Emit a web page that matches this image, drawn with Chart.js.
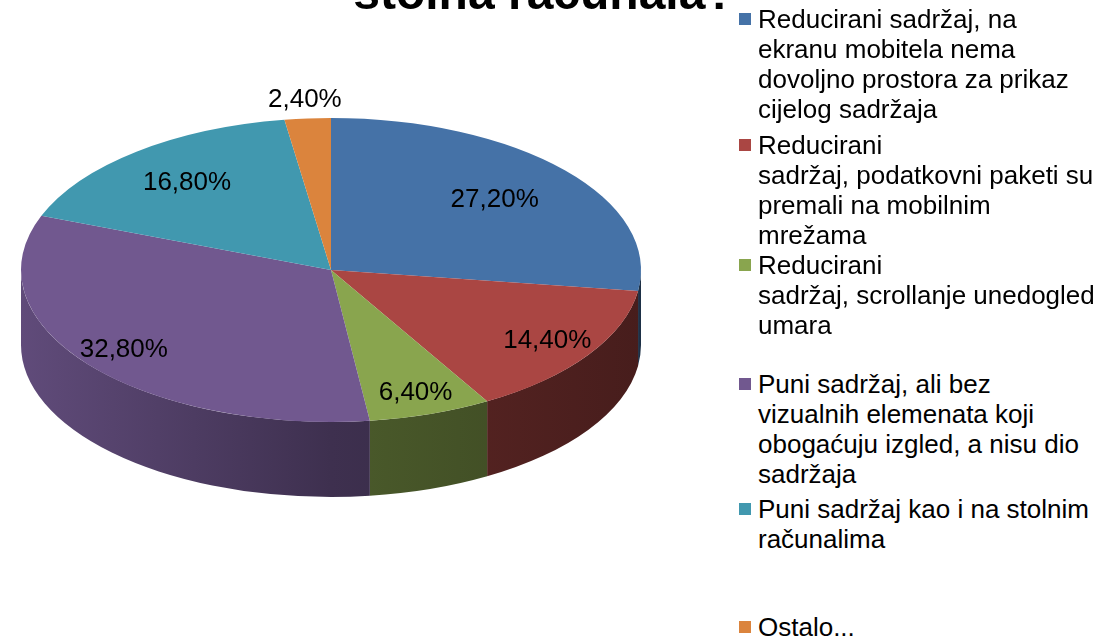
<!DOCTYPE html>
<html>
<head>
<meta charset="utf-8">
<script src="https://cdn.jsdelivr.net/npm/chart.js@4.4.1/dist/chart.umd.min.js"></script>
<style>
    html, body { margin: 0; padding: 0; background: #fff; }
    body {
        width: 1113px; height: 642px; overflow: hidden; position: relative;
        font-family: Arial, "Liberation Sans", sans-serif; color: #000;
    }
    #wrap { position: absolute; left: 0; top: 0; width: 700px; height: 642px; }
    #title {
        position: absolute; left: 294px; width: 500px; top: -32px;
        text-align: center; font-weight: bold; font-size: 48px; line-height: 50px;
        white-space: nowrap;
    }
    .item {
        position: absolute; left: 758px; font-size: 26px; line-height: 30px;
        white-space: nowrap;
    }
    .item .box { position: absolute; left: -19px; top: 9px; width: 12px; height: 12px; }
</style>
</head>
<body>
<div id="wrap"><canvas id="pieChart" width="700" height="642"></canvas></div>
<div id="title">stolna računala?</div>
<div id="legend"></div>
<script>
// Chart data
const categories = [
    ['Reducirani sadržaj, na', 'ekranu mobitela nema', 'dovoljno prostora za prikaz', 'cijelog sadržaja'],
    ['Reducirani', 'sadržaj, podatkovni paketi su', 'premali na mobilnim', 'mrežama'],
    ['Reducirani', 'sadržaj, scrollanje unedogled', 'umara'],
    ['Puni sadržaj, ali bez', 'vizualnih elemenata koji', 'obogaćuju izgled, a nisu dio', 'sadržaja'],
    ['Puni sadržaj kao i na stolnim', 'računalima'],
    ['Ostalo...']
];
const values = [27.2, 14.4, 6.4, 32.8, 16.8, 2.4];
const valueLabels = ['27,20%', '14,40%', '6,40%', '32,80%', '16,80%', '2,40%'];

// Colors (Excel 2007 palette)
const colors = ['#4572A7', '#AA4643', '#89A54E', '#71588F', '#4198AF', '#DB843D'];

// 3D look: ellipse of the top face and depth of the side wall
const CX = 331, CY = 270, RX = 310, RY = 152, DEPTH = 75;
// how far out along the slice each value label sits (fraction of radius)
const labelRadius = [0.7, 0.84, 0.85, 0.85, 0.74, 1.12];
// legend item tops, like Excel spaced them
const legendTops = [4, 130, 250, 369, 494, 612];

function shade(hex, f) {
    const n = parseInt(hex.slice(1), 16);
    const r = Math.round(((n >> 16) & 255) * f);
    const g = Math.round(((n >> 8) & 255) * f);
    const b = Math.round((n & 255) * f);
    return `rgb(${r},${g},${b})`;
}

const pie3d = {
    id: 'pie3d',
    beforeDatasetsDraw(chart) {
        const ctx = chart.ctx;
        const arcs = chart.getDatasetMeta(0).data;

        // side wall: only the front half (angles 0..PI) is visible
        arcs.forEach((arc, i) => {
            const a1 = Math.max(arc.startAngle, 0);
            const a2 = Math.min(arc.endAngle, Math.PI);
            if (a2 <= a1) return;
            const grad = ctx.createLinearGradient(CX - RX, 0, CX + RX, 0);
            grad.addColorStop(0, shade(colors[i], 0.85));
            grad.addColorStop(0.5, shade(colors[i], 0.55));
            grad.addColorStop(1, shade(colors[i], 0.42));
            ctx.save();
            ctx.fillStyle = grad;
            ctx.beginPath();
            ctx.ellipse(CX, CY, RX, RY, 0, a1, a2, false);
            ctx.ellipse(CX, CY + DEPTH, RX, RY, 0, a2, a1, true);
            ctx.closePath();
            ctx.fill();
            ctx.restore();
        });

        // squash the library's round pie into the top ellipse
        const { x, y, outerRadius } = arcs[0];
        ctx.save();
        ctx.translate(CX, CY);
        ctx.scale(RX / outerRadius, RY / outerRadius);
        ctx.translate(-x, -y);
    },
    afterDatasetsDraw(chart) {
        const ctx = chart.ctx;
        ctx.restore();

        // value labels
        const arcs = chart.getDatasetMeta(0).data;
        ctx.save();
        ctx.font = '26px Arial, "Liberation Sans", sans-serif';
        ctx.fillStyle = '#000';
        ctx.textAlign = 'center';
        ctx.textBaseline = 'middle';
        arcs.forEach((arc, i) => {
            const mid = (arc.startAngle + arc.endAngle) / 2;
            const f = labelRadius[i];
            ctx.fillText(valueLabels[i], CX + RX * f * Math.cos(mid), CY + RY * f * Math.sin(mid));
        });
        ctx.restore();
    }
};

new Chart(document.getElementById('pieChart'), {
    type: 'pie',
    data: {
        labels: categories,
        datasets: [{
            data: values,
            backgroundColor: colors,
            borderWidth: 0
        }]
    },
    options: {
        responsive: false,
        animation: false,
        events: [],
        plugins: {
            legend: { display: false },
            tooltip: { enabled: false }
        }
    },
    plugins: [pie3d]
});

// Legend (multi-line labels, drawn as HTML)
const legend = document.getElementById('legend');
categories.forEach((lines, i) => {
    const item = document.createElement('div');
    item.className = 'item';
    item.style.top = legendTops[i] + 'px';
    const box = document.createElement('span');
    box.className = 'box';
    box.style.background = colors[i];
    item.appendChild(box);
    item.appendChild(document.createTextNode(lines[0]));
    lines.slice(1).forEach(line => {
        item.appendChild(document.createElement('br'));
        item.appendChild(document.createTextNode(line));
    });
    legend.appendChild(item);
});
</script>
</body>
</html>
